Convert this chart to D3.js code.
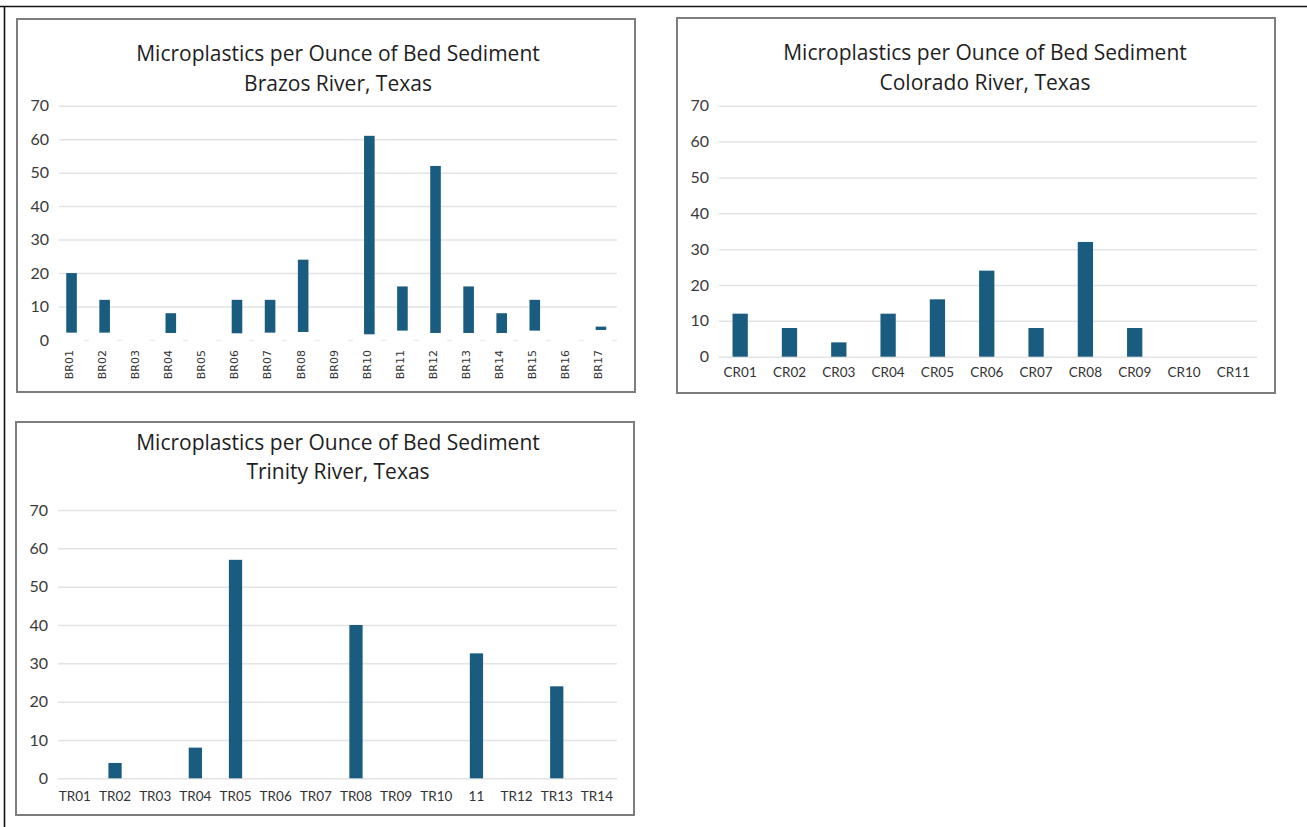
<!DOCTYPE html>
<html>
<head>
<meta charset="utf-8">
<title>Microplastics per Ounce of Bed Sediment</title>
<script src="https://cdn.jsdelivr.net/npm/d3@7/dist/d3.min.js"></script>
<style>
  html, body { margin: 0; padding: 0; background: #fff; }
  svg { display: block; }
  .tick text { font-family: Lato, "Open Sans", sans-serif; }
</style>
</head>
<body>
<svg id="chart" width="1307" height="827"></svg>
<script>
// ---- Data -------------------------------------------------------------
const titleLine1 = "Microplastics per Ounce of Bed Sediment";
const yTicks = [0, 10, 20, 30, 40, 50, 60, 70];

const brazosSites = ["BR01","BR02","BR03","BR04","BR05","BR06","BR07","BR08","BR09",
                     "BR10","BR11","BR12","BR13","BR14","BR15","BR16","BR17"];
const brazosValues = [20, 12, 0, 8, 0, 12, 12, 24, 0, 61, 16, 52, 16, 8, 12, 0, 4];
// bars in this panel start slightly above the zero line
const brazosBase   = [2.2, 2.2, 0, 2.1, 0, 2, 2.2, 2.4, 0, 1.7, 2.8, 2.1, 2.1, 2.1, 2.8, 0, 3];

const coloradoSites  = ["CR01","CR02","CR03","CR04","CR05","CR06","CR07","CR08","CR09","CR10","CR11"];
const coloradoValues = [12, 8, 4, 12, 16, 24, 8, 32, 8, 0, 0];

const trinitySites  = ["TR01","TR02","TR03","TR04","TR05","TR06","TR07","TR08","TR09","TR10","11","TR12","TR13","TR14"];
const trinityValues = [0, 4, 0, 8, 57, 0, 0, 40, 0, 0, 32.6, 0, 24, 0];

// ---- Layout -----------------------------------------------------------
const svg = d3.select("#chart");
const barColor = "#195c7f";
const gridColor = "#e3e3e3";
const titleFont = "'Open Sans', Lato, sans-serif";

// outer frame (top and left edges)
svg.append("line").attr("x1", 0).attr("x2", 1307).attr("y1", 6.5).attr("y2", 6.5)
  .attr("stroke", "#111").attr("stroke-width", 1.6);
svg.append("line").attr("x1", 4.5).attr("x2", 4.5).attr("y1", 6).attr("y2", 827)
  .attr("stroke", "#111").attr("stroke-width", 1.6);

function panel(cfg) {
  const g = svg.append("g");

  // frame
  g.append("rect")
    .attr("x", cfg.box[0]).attr("y", cfg.box[1])
    .attr("width", cfg.box[2] - cfg.box[0]).attr("height", cfg.box[3] - cfg.box[1])
    .attr("fill", "#fff").attr("stroke", "#7d7d7d").attr("stroke-width", 2);

  // titles
  [titleLine1, cfg.subtitle].forEach((t, i) => {
    g.append("text").attr("x", cfg.titleX).attr("y", cfg.titleY[i])
      .attr("text-anchor", "middle").attr("fill", "#1e1e1e")
      .style("font-family", titleFont).style("font-size", "21px")
      .text(t);
  });

  const x = d3.scaleBand().domain(cfg.sites)
    .range([cfg.xRange[0], cfg.xRange[1]])
    .paddingInner(cfg.pad).paddingOuter(cfg.pad / 2);
  const y = d3.scaleLinear().domain([0, 70]).range([cfg.yRange[0], cfg.yRange[1]]);

  // y axis with gridlines
  const yAxis = d3.axisLeft(y).tickValues(yTicks)
    .tickSize(cfg.gridX[1] - cfg.gridX[0]).tickPadding(10);
  const ya = g.append("g").attr("transform", `translate(${cfg.gridX[1]},0)`).call(yAxis);
  ya.select(".domain").remove();
  ya.selectAll(".tick line").attr("stroke", gridColor).attr("stroke-width", 1.5);
  ya.selectAll(".tick text").attr("fill", "#3a3a3a").style("font-size", "16px");
  ya.selectAll(".tick").filter(d => d === 0).select("line")
    .attr("stroke", cfg.zeroColor || gridColor)
    .attr("stroke-dasharray", cfg.zeroDash || null);

  // bars
  const data = cfg.sites.map((s, i) => ({
    site: s, value: cfg.values[i], base: cfg.base ? cfg.base[i] : 0
  })).filter(d => d.value > 0);
  g.append("g").selectAll("rect").data(data).join("rect")
    .attr("x", d => x(d.site))
    .attr("width", x.bandwidth())
    .attr("y", d => y(d.value))
    .attr("height", d => y(d.base) - y(d.value))
    .attr("fill", barColor);

  // category labels
  const xAxis = d3.axisBottom(x).tickSize(0).tickPadding(0);
  const xa = g.append("g").attr("transform", `translate(0,${cfg.labelY})`).call(xAxis);
  xa.select(".domain").remove();
  const labels = xa.selectAll(".tick text")
    .attr("fill", "#333").style("font-size", cfg.labelSize);
  if (cfg.rotate) {
    labels.attr("transform", "rotate(-90)")
      .attr("text-anchor", "end")
      .attr("x", 0).attr("y", 0).attr("dx", 0).attr("dy", "0.35em")
      .style("font-family", "'DejaVu Sans', sans-serif");
    xa.selectAll(".tick").attr("transform", d => `translate(${x(d) + x.bandwidth() / 2 - 2.5},0)`);
  } else {
    labels.attr("y", 0).attr("dy", 0);
  }
}

panel({
  box: [17, 19, 635, 392],
  subtitle: "Brazos River, Texas",
  titleX: 338, titleY: [61, 90.5],
  sites: brazosSites, values: brazosValues, base: brazosBase,
  xRange: [55, 617.5], pad: 0.68,
  yRange: [340, 105.7], gridX: [59, 617],
  zeroColor: "#ececec", zeroDash: "5,28",
  labelY: 350, rotate: true, labelSize: "11px"
});

panel({
  box: [677, 18, 1275, 393],
  subtitle: "Colorado River, Texas",
  titleX: 985, titleY: [59.5, 90],
  sites: coloradoSites, values: coloradoValues,
  xRange: [715.5, 1258], pad: 0.69,
  yRange: [356.7, 105.7], gridX: [719, 1257],
  labelY: 377, rotate: false, labelSize: "13.5px"
});

panel({
  box: [16, 422, 634, 815],
  subtitle: "Trinity River, Texas",
  titleX: 338, titleY: [450, 479],
  sites: trinitySites, values: trinityValues,
  xRange: [54.8, 617], pad: 0.67,
  yRange: [778.3, 510], gridX: [58, 617],
  labelY: 801, rotate: false, labelSize: "13.5px"
});
</script>
</body>
</html>
